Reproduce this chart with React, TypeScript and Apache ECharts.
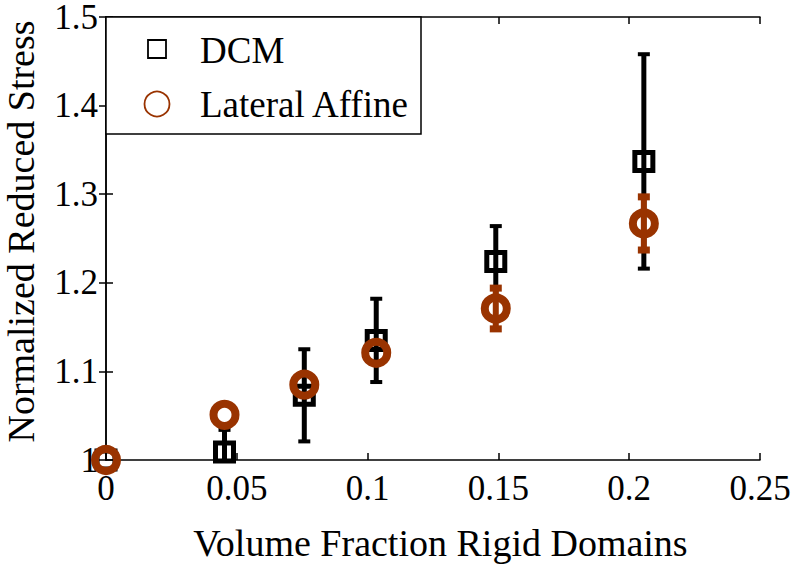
import React, { useEffect, useRef } from "react";
import * as echarts from "echarts";

const xValues = [0, 0.0453, 0.0758, 0.1033, 0.149, 0.2056];
const dcmValues = [1.0, 1.009, 1.073, 1.135, 1.224, 1.337];
const dcmErrors = [0, 0.025, 0.052, 0.047, 0.04, 0.121];
const affineValues = [1.0, 1.051, 1.085, 1.121, 1.171, 1.267];
const affineErrors = [0, 0, 0, 0, 0.023, 0.03];
const xTicks = [0, 0.05, 0.1, 0.15, 0.2, 0.25];
const yTicks = [1.0, 1.1, 1.2, 1.3, 1.4, 1.5];

const ORANGE = "#993300";
const FONT = "'Liberation Serif', 'DejaVu Serif', serif";

function errorBarRenderer(color: string, lineWidth: number, capHalf: number, capWidth: number) {
  return (params: any, api: any) => {
    const x = api.value(0);
    const y = api.value(1);
    const e = api.value(2);
    if (!e) return null;
    const cs = params.coordSys;
    const top = api.coord([x, y + e]);
    const bot = api.coord([x, y - e]);
    const minY = cs.y;
    const maxY = cs.y + cs.height;
    const t = Math.max(minY, top[1]);
    const b = Math.min(maxY, bot[1]);
    const children: any[] = [
      { type: "line", shape: { x1: top[0], y1: t, x2: bot[0], y2: b }, style: { stroke: color, lineWidth } },
    ];
    if (top[1] >= minY) {
      children.push({ type: "line", shape: { x1: top[0] - capHalf, y1: top[1], x2: top[0] + capHalf, y2: top[1] }, style: { stroke: color, lineWidth: capWidth } });
    }
    if (bot[1] <= maxY) {
      children.push({ type: "line", shape: { x1: bot[0] - capHalf, y1: bot[1], x2: bot[0] + capHalf, y2: bot[1] }, style: { stroke: color, lineWidth: capWidth } });
    }
    return { type: "group", children };
  };
}

export default function App() {
  const ref = useRef<HTMLDivElement>(null);
  useEffect(() => {
    if (!ref.current) return;
    const chart = echarts.init(ref.current, null, { renderer: "svg" });
    const dcmPts = xValues.map((x, i) => [x, dcmValues[i]]);
    const affPts = xValues.map((x, i) => [x, affineValues[i]]);
    const dcmErr = xValues.map((x, i) => [x, dcmValues[i], dcmErrors[i]]);
    const affErr = xValues.map((x, i) => [x, affineValues[i], affineErrors[i]]);

    const axisLine = { show: true, lineStyle: { color: "#000", width: 1.5 } };
    const tick = { show: true, inside: true, length: 7, lineStyle: { color: "#000", width: 1.5 } };

    chart.setOption({
      animation: false,
      backgroundColor: "#fff",
      grid: { left: 106, right: 31, top: 17, bottom: 108, containLabel: false, outerBoundsMode: "none" },
      xAxis: [
        {
          type: "value",
          min: 0,
          max: 0.25,
          interval: 0.05,
          position: "bottom",
          axisLine,
          axisTick: tick,
          splitLine: { show: false },
          axisLabel: {
            color: "#000",
            fontFamily: FONT,
            fontSize: 35,
            lineHeight: 32,
            margin: 12,
            hideOverlap: false,
            formatter: (v: number) => {
              const m = xTicks.find((t) => Math.abs(t - v) < 1e-9);
              return m === undefined ? "" : String(m);
            },
          },
          name: "Volume Fraction Rigid Domains",
          nameLocation: "middle",
          nameGap: 64,
          nameMoveOverlap: false,
          nameTextStyle: { color: "#000", fontFamily: FONT, fontSize: 38, padding: [0, 0, 0, 15] },
        },
        {
          type: "value",
          min: 0,
          max: 0.25,
          interval: 0.05,
          position: "top",
          axisLine,
          axisTick: tick,
          axisLabel: { show: false },
          splitLine: { show: false },
        },
      ],
      yAxis: [
        {
          type: "value",
          min: 1.0,
          max: 1.5,
          interval: 0.1,
          position: "left",
          axisLine,
          axisTick: tick,
          splitLine: { show: false },
          axisLabel: {
            color: "#000",
            fontFamily: FONT,
            fontSize: 35,
            lineHeight: 30,
            margin: 8,
            hideOverlap: false,
            formatter: (v: number) => {
              const m = yTicks.find((t) => Math.abs(t - v) < 1e-9);
              if (m === undefined) return "";
              return Math.abs(m - 1) < 1e-9 ? "1" : m.toFixed(1);
            },
          },
          name: "Normalized Reduced Stress",
          nameLocation: "middle",
          nameGap: 66,
          nameMoveOverlap: false,
          nameTextStyle: { color: "#000", fontFamily: FONT, fontSize: 38, padding: [0, 0, 0, 14] },
        },
        {
          type: "value",
          min: 1.0,
          max: 1.5,
          interval: 0.1,
          position: "right",
          axisLine,
          axisTick: tick,
          axisLabel: { show: false },
          splitLine: { show: false },
        },
      ],
      series: [
        {
          name: "DCM error",
          type: "custom",
          xAxisIndex: 0,
          yAxisIndex: 0,
          z: 2,
          renderItem: errorBarRenderer("#000", 5, 6, 4),
          encode: { x: 0, y: 1 },
          data: dcmErr,
        },
        {
          name: "DCM",
          type: "scatter",
          z: 3,
          symbol: "rect",
          symbolSize: 18,
          itemStyle: { color: "rgba(0,0,0,0)", borderColor: "#000", borderWidth: 5, opacity: 1 },
          data: dcmPts,
        },
        {
          name: "Lateral Affine",
          type: "scatter",
          z: 4,
          symbol: "circle",
          symbolSize: 22,
          itemStyle: { color: "rgba(0,0,0,0)", borderColor: ORANGE, borderWidth: 8, opacity: 1 },
          data: affPts,
        },
        {
          name: "Affine error",
          type: "custom",
          z: 5,
          renderItem: errorBarRenderer(ORANGE, 6, 6, 7),
          encode: { x: 0, y: 1 },
          data: affErr,
        },
      ],
      graphic: {
        elements: [
          {
            type: "rect",
            z: 100,
            shape: { x: 106, y: 17, width: 315, height: 117 },
            style: { fill: "#fff", stroke: "#000", lineWidth: 1.5 },
          },
          {
            type: "rect",
            z: 101,
            shape: { x: 148, y: 40, width: 18, height: 18 },
            style: { fill: "none", stroke: "#000", lineWidth: 1.8 },
          },
          {
            type: "circle",
            z: 101,
            shape: { cx: 157, cy: 104, r: 12.5 },
            style: { fill: "none", stroke: ORANGE, lineWidth: 1.8 },
          },
          {
            type: "text",
            z: 101,
            x: 200,
            y: 50,
            style: { text: "DCM", font: `37px ${FONT}`, fill: "#000", verticalAlign: "middle" },
          },
          {
            type: "text",
            z: 101,
            x: 200,
            y: 104,
            style: { text: "Lateral Affine", font: `37px ${FONT}`, fill: "#000", verticalAlign: "middle" },
          },
        ],
      },
    });
    return () => chart.dispose();
  }, []);
  return <div ref={ref} style={{ position: "fixed", left: 0, top: 0, width: 791, height: 568 }} />;
}
